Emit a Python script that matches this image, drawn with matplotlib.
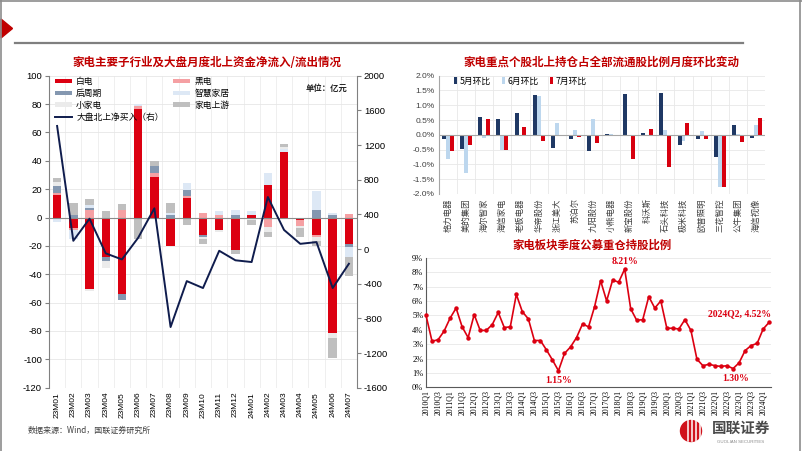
import numpy as np
import matplotlib
matplotlib.use("Agg")
import matplotlib.pyplot as plt
from matplotlib.patches import Polygon, Circle, Rectangle
from matplotlib.lines import Line2D

W, H = 802, 451
CJK = ["Noto Sans CJK SC", "DejaVu Sans"]
SERIF = ["Liberation Serif", "Noto Sans CJK SC"]
plt.rcParams.update({
    "font.family": ["Liberation Sans", "Noto Sans CJK SC"],
    "axes.unicode_minus": False,
})

# ---- left: monthly northbound flows by sub-sector (亿元) ----
months = ["23M01", "23M02", "23M03", "23M04", "23M05", "23M06", "23M07", "23M08",
          "23M09", "23M10", "23M11", "23M12", "24M01", "24M02", "24M03", "24M04",
          "24M05", "24M06", "24M07"]
white_goods = [16, -7.5, -50.5, -27.5, -54, 76.5, 28.5, -20, 14, -12.5, -9, -23,
               1.5, 23, 46, -2, -12.5, -81.5, -18.5]
black_goods = [1.5, -1, 5, 0, 5, 2, 3, 0, 1.5, 3.5, 1.5, 0, 0, -7, 0, -4, -1.5, 0, 2.5]
post_cycle = [4.5, 1.5, 2, -3.5, -4, 0, 5, 1.5, 4, -1.5, 0, 1.5, 0, 0, 0, 0, 5.5, 2, -2.5]
smart_home = [-3, -6.5, 1.5, 0, 0, 1.5, 0, 1.5, 4.5, 0, 3, 4, 3, 8.5, 2.5, 0, 13, 1.5, -7]
small_appl = [3.3, 0, -1.5, -4.5, 0, 0, 0, 0, 0, -1, -1, 0, -1.5, -3, 1.5, -1.5, -2.5, -3.5, 0]
upstream = [2.6, 8.5, 4.5, 4.5, 4.5, -14.8, 3.5, 7.5, -5, -3.5, 0, -3, -3.5, -3.5, 2,
            -6.5, -3.5, -14, -13]
market_north = [1420, 95, 350, -50, -120, 130, 470, -900, -370, -450, -20, -130,
                -150, 600, 220, 60, 80, -450, -170]

SERIES = [("白电", white_goods, "#dc0011"),
          ("黑电", black_goods, "#f5a0a3"),
          ("后周期", post_cycle, "#8497b0"),
          ("智慧家居", smart_home, "#dde8f5"),
          ("小家电", small_appl, "#ebebeb"),
          ("家电上游", upstream, "#bfbfbf")]

# ---- top right: stock holding ratio m/m change (%) ----
stocks = ["格力电器", "美的集团", "海尔智家", "海信家电", "老板电器", "华帝股份", "浙江美大",
          "苏泊尔", "九阳股份", "小熊电器", "新宝股份", "科沃斯", "石头科技", "极米科技",
          "欧普照明", "三花智控", "公牛集团", "海信视像"]
may_chg = [-0.13, -0.48, 0.6, 0.52, 0.73, 1.35, -0.43, -0.14, -0.56, 0.03, 1.37, 0.07,
           1.4, -0.33, -0.15, -0.74, 0.32, -0.1]
jun_chg = [-0.82, -1.3, -0.12, -0.52, 0.01, 1.32, 0.4, 0.15, 0.52, 0.02, 0.01, 0.01,
           0.18, -0.2, 0.13, -1.75, 0.02, 0.33]
jul_chg = [-0.55, -0.35, 0.52, -0.5, 0.25, -0.2, -0.01, -0.07, -0.27, 0.0, -0.82, 0.2,
           -1.1, 0.4, -0.13, -1.78, -0.25, 0.57]

# ---- bottom right: quarterly fund heavy-holding ratio (%) ----
quarters = [f"{y}Q{q}" for y in range(2010, 2025) for q in range(1, 5)][:58]
fund_ratio = [5.0, 3.2, 3.3, 3.9, 4.8, 5.5, 4.2, 3.45, 5.05, 3.95, 3.95, 4.35,
              5.2, 4.15, 4.2, 6.45, 5.25, 4.75, 3.25, 3.25, 2.6, 1.9, 1.15, 2.35,
              2.8, 3.45, 4.4, 4.2, 5.6, 7.4, 6.0, 7.45, 7.3, 8.21, 5.45, 4.65,
              4.7, 6.3, 5.5, 6.0, 4.1, 4.1, 4.05, 4.7, 3.95, 1.95, 1.5, 1.6,
              1.5, 1.45, 1.5, 1.3, 1.7, 2.55, 2.9, 3.05, 4.05, 4.52]


def rect(l, t, r, b):
    return [l / W, 1 - b / H, (r - l) / W, (b - t) / H]


fig = plt.figure(figsize=(W / 100, H / 100), dpi=100)

# page decorations in pixel coordinates
bg = fig.add_axes([0, 0, 1, 1])
bg.set_xlim(0, W); bg.set_ylim(H, 0); bg.axis("off")
bg.plot([0.5, 0.5], [0, H], color="#8c8c8c", lw=1.2)
bg.plot([0, W], [0.6, 0.6], color="#8c8c8c", lw=1.2)
bg.plot([799.5, 799.5], [0, H], color="#8c8c8c", lw=1.2)
bg.plot([15, 743], [43, 43], color="#7f7f7f", lw=1.6)
bg.add_patch(Polygon([[1, 19], [12.5, 28.5], [1, 38]], color="#c00000"))
bg.text(207, 62, "家电主要子行业及大盘月度北上资金净流入/流出情况", ha="center", va="center",
        color="#c00000", fontsize=8.3, fontweight="bold", family=CJK)
bg.text(601, 62, "家电重点个股北上持仓占全部流通股比例月度环比变动", ha="center", va="center",
        color="#c00000", fontsize=8.3, fontweight="bold", family=CJK)
bg.text(592, 245, "家电板块季度公募重仓持股比例", ha="center", va="center",
        color="#c00000", fontsize=8.2, fontweight="bold", family=CJK)
bg.text(28, 430, "数据来源：Wind，国联证券研究所", ha="left", va="center",
        color="#404040", fontsize=5.8, family=CJK)
# logo
bg.add_patch(Circle((691, 431), 10.5, color="#d0121b"))
for xx, top in [(688, 420), (692, 418), (696, 421), (700, 424)]:
    bg.plot([xx, xx], [top, 441], color="white", lw=1.1)
bg.text(741, 428, "国联证券", ha="center", va="center", color="#4a4a4a",
        fontsize=10.5, fontweight="bold", family=CJK)
bg.text(741, 442, "GUOLIAN SECURITIES", ha="center", va="center", color="#8a8a8a",
        fontsize=3.2)

# ---------------- left chart ----------------
ax1 = fig.add_axes(rect(49, 75.7, 357, 387.7))
ax1.set_facecolor("none")
x = np.arange(len(months))
pos = np.zeros(len(months))
neg = np.zeros(len(months))
handles = {}
for name, vals, col in SERIES:
    v = np.array(vals, dtype=float)
    base = np.where(v >= 0, pos, neg)
    b = ax1.bar(x, v, 0.52, bottom=base, color=col, zorder=2, label=name)
    handles[name] = b
    pos += np.clip(v, 0, None)
    neg += np.clip(v, None, 0)
ax1.set_xlim(-0.5, len(months) - 0.5)
ax1.set_ylim(-120, 100)
ax1.set_yticks(range(-120, 101, 20))
ax1.set_xticks(x)
ax1.set_xticklabels(months, rotation=90, fontsize=6)
ax1.tick_params(axis="y", labelsize=6.8, length=3, color="#808080", pad=2)
ax1.tick_params(axis="x", length=0, pad=3)
for k in range(len(months) + 1):
    ax1.axvline(k - 0.5, color="#ececec", lw=0.6, zorder=0)
for yy in range(-120, 101, 20):
    ax1.axhline(yy, color="#e6e6e6", lw=0.6, zorder=0)
ax1.axhline(0, color="#8c8c8c", lw=0.8, zorder=3)
for s in ["top", "right", "bottom"]:
    ax1.spines[s].set_visible(False)
ax1.spines["left"].set_color("#808080")

ax2 = ax1.twinx()
line, = ax2.plot(x, market_north, color="#0f1c4d", lw=1.4, zorder=4,
                 label="大盘北上净买入（右）")
ax2.set_ylim(-1600, 2000)
ax2.set_yticks(range(-1600, 2001, 400))
ax2.tick_params(axis="y", labelsize=6.8, length=3, color="#808080", pad=2)
for s in ["top", "left", "bottom"]:
    ax2.spines[s].set_visible(False)
ax2.spines["right"].set_color("#808080")

order = ["白电", "后周期", "小家电", None, "黑电", "智慧家居", "家电上游"]
hl = [line if n is None else handles[n] for n in order]
ll = ["大盘北上净买入（右）" if n is None else n for n in order]
leg = ax2.legend(hl, ll, ncol=2, loc="upper left", bbox_to_anchor=(0.02, 0.995),
                 frameon=False, prop={"family": CJK, "size": 6.3},
                 handlelength=1.9, handleheight=0.45, handletextpad=0.5,
                 labelspacing=0.32, columnspacing=1.1, borderpad=0, borderaxespad=0)
ax2.text(0.97, 0.96, "单位：亿元", transform=ax2.transAxes, ha="right", va="center",
         fontsize=6, fontweight="bold", family=CJK, color="#222222")

# ---------------- top right chart ----------------
ax3 = fig.add_axes(rect(439, 75.7, 765, 194))
ax3.set_facecolor("none")
xs = np.arange(len(stocks))
bw = 0.22
ax3.bar(xs - bw, may_chg, bw, color="#1f3864", label="5月环比", zorder=2)
ax3.bar(xs, jun_chg, bw, color="#bdd7ee", label="6月环比", zorder=2)
ax3.bar(xs + bw, jul_chg, bw, color="#d7000f", label="7月环比", zorder=2)
ax3.set_xlim(-0.5, len(stocks) - 0.5)
ax3.set_ylim(-2.0, 2.0)
yt = np.arange(-2.0, 2.01, 0.5)
ax3.set_yticks(yt)
ax3.set_yticklabels([f"{v:.1f}%" for v in yt], fontsize=6, color="#404040")
ax3.set_xticks(xs)
ax3.set_xticklabels(stocks, rotation=90, fontsize=6, family=CJK, color="#404040")
ax3.tick_params(axis="x", length=0, pad=3)
ax3.tick_params(axis="y", length=0, pad=3)
for k in range(len(stocks) + 1):
    ax3.axvline(k - 0.5, color="#e8e8e8", lw=0.6, zorder=0)
for yy in yt:
    ax3.axhline(yy, color="#e8e8e8", lw=0.6, zorder=0)
ax3.axhline(0, color="#a6a6a6", lw=0.8, zorder=3)
for s in ["top", "right", "bottom"]:
    ax3.spines[s].set_visible(False)
ax3.spines["left"].set_color("#a6a6a6")
ax3.legend(ncol=3, loc="upper left", bbox_to_anchor=(0.045, 0.99), frameon=False,
           prop={"family": CJK, "size": 6.3}, handlelength=0.35, handleheight=0.9,
           handletextpad=0.3, columnspacing=1.3, borderpad=0, borderaxespad=0)

# ---------------- bottom right chart ----------------
ax4 = fig.add_axes(rect(426, 257.7, 771, 387.3))
ax4.set_facecolor("none")
xq = np.arange(len(fund_ratio))
ax4.plot(xq, fund_ratio, color="#dc0011", lw=1.2, marker="o", markersize=2.2,
         zorder=3, clip_on=False)
ax4.set_xlim(0, 57.3)
ax4.set_ylim(0, 9)
ax4.set_yticks(range(0, 10))
ax4.set_yticklabels([f"{v}%" for v in range(0, 10)], fontsize=6, family=SERIF)
ax4.set_xticks(xq[::2])
ax4.set_xticklabels(quarters[::2], rotation=90, fontsize=5.6, family=SERIF)
ax4.tick_params(axis="both", length=0, pad=2)
for yy in range(1, 10):
    ax4.axhline(yy, color="#e8e8e8", lw=0.6, zorder=0)
for s in ["top", "right"]:
    ax4.spines[s].set_visible(False)
ax4.spines["left"].set_color("#595959")
ax4.spines["bottom"].set_color("#595959")

ann = dict(color="#dc0011", fontsize=7, fontweight="bold", family=SERIF,
           textcoords="offset points")
i_max = int(np.argmax(fund_ratio))
ax4.annotate(f"{fund_ratio[i_max]:.2f}%", xy=(i_max, fund_ratio[i_max]), xytext=(0, 5.8),
             ha="center", va="center", **ann)
ax4.annotate("1.15%", xy=(22, fund_ratio[22]), xytext=(0, -6.8), ha="center",
             va="center", **ann)
ax4.annotate("1.30%", xy=(51, fund_ratio[51]), xytext=(1.5, -6.8), ha="center",
             va="center", **ann)
ax4.annotate("2024Q2, 4.52%", xy=(57, fund_ratio[57]), xytext=(1, 5.8), ha="right",
             va="center", **ann)

fig.savefig("out.png", dpi=100, facecolor="white")
